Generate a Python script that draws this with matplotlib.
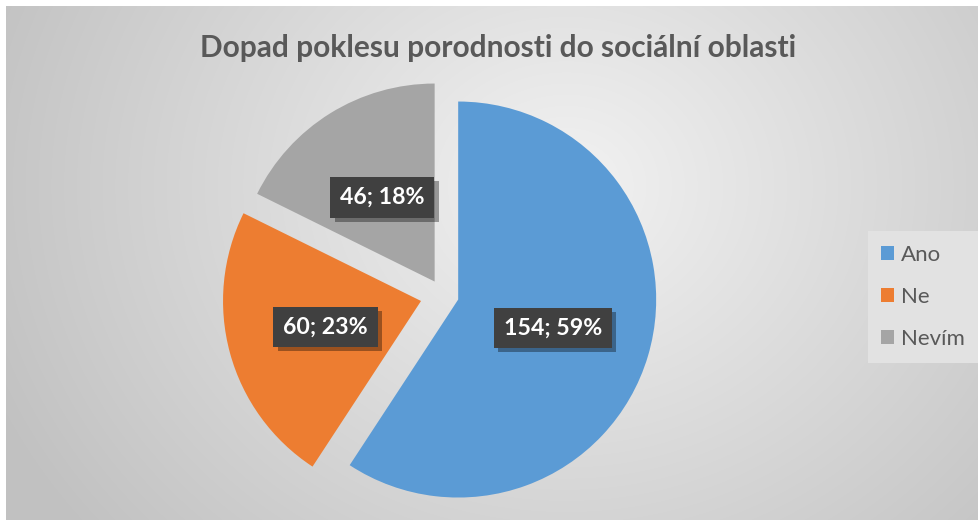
import numpy as np
import matplotlib
matplotlib.use("Agg")
import matplotlib.pyplot as plt
import matplotlib.patheffects as pe

labels = ["Ano", "Ne", "Nevím"]
counts = [154, 60, 46]
colors = ["#5B9BD5", "#ED7D31", "#A5A5A5"]
title = "Dopad poklesu porodnosti do sociální oblasti"

W, H = 979, 520
fig = plt.figure(figsize=(W / 100, H / 100), dpi=100)
fig.patch.set_facecolor("white")

# radial gradient background (chart area starts at ~6px from top/left)
bg = fig.add_axes([6 / W, 0, 1 - 6 / W, 1 - 6 / H])
yy, xx = np.mgrid[0:H - 6, 0:W - 6]
dist = np.sqrt((xx - 560) ** 2 + ((yy - 180) * 1.15) ** 2) / 620
dist = np.clip(dist, 0, 1)
c0, c1 = 0.95, 0.76
img = c0 + (c1 - c0) * dist
bg.imshow(np.dstack([img, img, img]), aspect="auto", extent=(0, 1, 0, 1))
bg.set_axis_off()

# pie axes: center (443,295) px, radius 198 px
r = 198
half = 1.25 * r
cx, cy = 443, 295
ax = fig.add_axes([(cx - half) / W, (H - cy - half) / H, 2 * half / W, 2 * half / H])
ax.set_xlim(-1.25, 1.25)
ax.set_ylim(-1.25, 1.25)
ax.set_axis_off()

total = sum(counts)


def fmt(p):
    v = int(round(p * total / 100))
    return f"{v}; {p:.0f}%"


wedges, texts, autotexts = ax.pie(
    counts, colors=colors, startangle=90, counterclock=False,
    explode=[0.08, 0.115, 0.08], autopct=fmt, pctdistance=0.5,
    radius=1, frame=False,
    textprops=dict(color="white", fontsize=16.7, fontweight="bold", family="Lato"),
)
for t in autotexts:
    t.set_bbox(dict(boxstyle="square,pad=0.42", facecolor="#404040", edgecolor="none"))
    t.get_bbox_patch().set_path_effects(
        [pe.withSimplePatchShadow(offset=(3, -3), shadow_rgbFace="black", alpha=0.35), pe.Normal()])
ax.set_aspect("equal")

fig.text(498 / W, 1 - 48 / H, title, ha="center", va="center",
         fontsize=21.5, fontweight="bold", color="#595959", family="Lato")

leg = fig.legend(wedges, labels, loc="center left", bbox_to_anchor=(868 / W, 1 - 297 / H),
                 borderaxespad=0, frameon=True, fancybox=False, facecolor="#e2e2e2",
                 edgecolor="none", framealpha=1, labelspacing=1.0, handlelength=0.58,
                 handleheight=0.58, handletextpad=0.32, borderpad=0.6,
                 prop=dict(family="Lato", size=16))
for t in leg.get_texts():
    t.set_color("#595959")

fig.savefig("out.png", dpi=100)
